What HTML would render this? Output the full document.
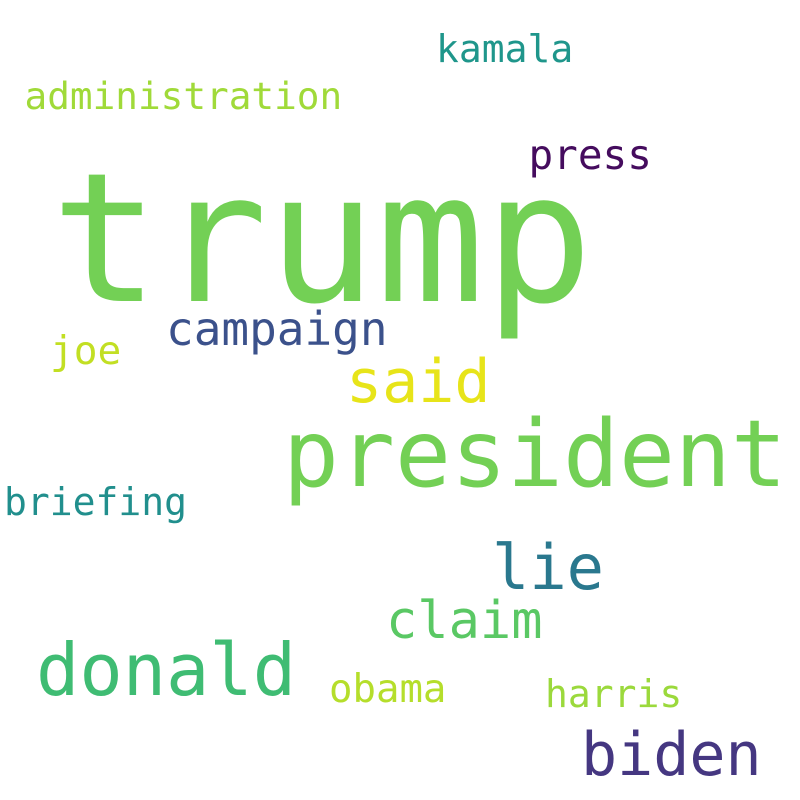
<!DOCTYPE html>
<html lang="en">
<head>
<meta charset="utf-8">
<title>Word cloud</title>
<style>
  html, body { margin: 0; padding: 0; background: #ffffff; }
  svg { display: block; }
  text { font-family: "DejaVu Sans Mono", "Liberation Mono", monospace; }
</style>
</head>
<body>
<svg xmlns="http://www.w3.org/2000/svg" width="800" height="800" viewBox="0 0 800 800">
  <rect x="0" y="0" width="800" height="800" fill="#ffffff"/>
  <text x="51" y="301" font-size="180" fill="#73d055">trump</text>
  <text x="283" y="486" font-size="93" fill="#73d055">president</text>
  <text x="36" y="695" font-size="72" fill="#3fbc73">donald</text>
  <text x="581" y="775" font-size="60" fill="#453781">biden</text>
  <text x="492" y="589" font-size="62" fill="#2a788e">lie</text>
  <text x="346" y="402" font-size="60" fill="#e7e419">said</text>
  <text x="386" y="638" font-size="52" fill="#5ac864">claim</text>
  <text x="166" y="345" font-size="46" fill="#3b518b">campaign</text>
  <text x="528.5" y="169" font-size="41" fill="#450c5e">press</text>
  <text x="24.5" y="109" font-size="37.7" fill="#a0da39">administration</text>
  <text x="436" y="62" font-size="38" fill="#1f968b">kamala</text>
  <text x="50" y="364" font-size="39.5" fill="#c2df23">joe</text>
  <text x="4" y="515" font-size="38" fill="#218f8d">briefing</text>
  <text x="329" y="702" font-size="39" fill="#b5de2b">obama</text>
  <text x="545" y="707" font-size="38" fill="#9bd93c">harris</text>
</svg>
</body>
</html>
